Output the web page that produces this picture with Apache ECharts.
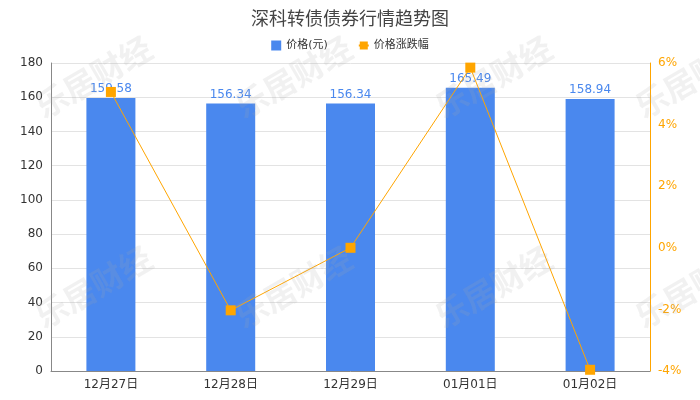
<!DOCTYPE html>
<html>
<head>
<meta charset="utf-8">
<script src="https://cdn.jsdelivr.net/npm/echarts@6/dist/echarts.min.js"></script>
<style>
  html, body { margin: 0; padding: 0; background: #fff; }
  #chart { width: 700px; height: 400px; }
</style>
</head>
<body>
<div id="chart"></div>
<script>
// 数据
const categories = ['12月27日', '12月28日', '12月29日', '01月01日', '01月02日'];
const priceData = [159.58, 156.34, 156.34, 165.49, 158.94];
const changeData = [5.06, -2.03, 0, 5.85, -3.96];

const font = '"DejaVu Sans", "Noto Sans CJK SC", sans-serif';
const cjkFont = '"Noto Sans CJK SC", sans-serif';
const chart = echarts.init(document.getElementById('chart'));

// 水印
const marks = [];
[[30, 95], [230, 95], [430, 95], [630, 95], [30, 305], [230, 305], [430, 305], [630, 305]].forEach(p => {
  marks.push({
    type: 'text',
    x: p[0], y: p[1],
    rotation: Math.PI / 6,
    silent: true,
    z: 100,
    style: {
      text: '乐居财经',
      font: 'bold 32px ' + cjkFont,
      fill: 'rgba(170,170,170,0.16)'
    }
  });
});

let option = {
  backgroundColor: '#fff',
  textStyle: { fontFamily: font },
  title: {
    text: '深科转债债券行情趋势图',
    left: 'center',
    top: 4,
    textStyle: { color: '#444', fontSize: 18, fontWeight: 'normal', fontFamily: cjkFont }
  },
  legend: {
    top: 35,
    left: 'center',
    itemWidth: 10,
    itemHeight: 10,
    itemGap: 30,
    textStyle: { color: '#333', fontSize: 11, fontFamily: font },
    data: [
      { name: '价格(元)', icon: 'rect' },
      { name: '价格涨跌幅' }
    ]
  },
  grid: { left: 51, right: 50, top: 63, bottom: 29 },
  xAxis: [{
    type: 'category',
    data: categories,
    axisLine: { show: true, lineStyle: { color: '#888' } },
    axisTick: { show: false },
    axisLabel: { color: '#333', fontSize: 12, margin: 8, fontFamily: font }
  }],
  yAxis: [{
    type: 'value',
    min: 0,
    max: 180,
    interval: 20,
    axisLine: { show: true, lineStyle: { color: '#888' } },
    axisTick: { show: false },
    axisLabel: { color: '#333', fontSize: 12, fontFamily: font },
    splitLine: { lineStyle: { color: '#e3e3e3' } }
  }, {
    type: 'value',
    min: -4,
    max: 6,
    interval: 2,
    position: 'right',
    axisLine: { show: true, lineStyle: { color: '#FFA500' } },
    axisTick: { show: false },
    axisLabel: { color: '#FFA500', fontSize: 12, formatter: '{value}%', fontFamily: font },
    splitLine: { show: false }
  }],
  series: [{
    name: '价格(元)',
    type: 'bar',
    data: priceData,
    barWidth: 49,
    itemStyle: { color: '#4A88EE' },
    label: {
      show: true,
      position: 'top',
      color: '#4A88EE',
      fontSize: 12,
      distance: 3,
      fontFamily: font
    }
  }, {
    name: '价格涨跌幅',
    type: 'line',
    yAxisIndex: 1,
    data: changeData,
    symbol: 'rect',
    symbolSize: 10,
    lineStyle: { color: '#FFA500', width: 1 },
    itemStyle: { color: '#FFA500' }
  }],
  graphic: marks
};

chart.setOption(option);
</script>
</body>
</html>
